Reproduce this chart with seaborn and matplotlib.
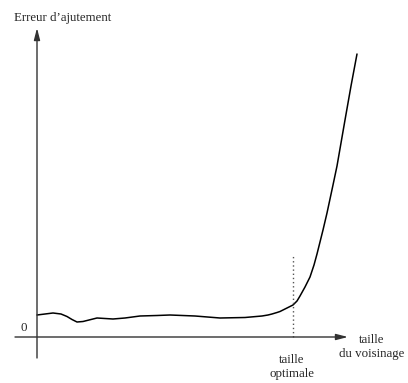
import matplotlib
matplotlib.use("Agg")
import matplotlib.pyplot as plt
import seaborn as sns
import pandas as pd

# neighbourhood size vs fitting error (arbitrary units, origin at axis crossing)
taille = [0, 8, 16, 24, 30, 35, 40, 46, 52, 60, 68, 76, 88, 103, 120, 133, 158,
          183, 208, 225, 231, 235, 240, 243, 247, 250, 253, 256, 260, 263, 268,
          273, 277, 280, 283, 286, 290, 293, 296, 300, 304, 308, 311, 314, 317, 320]
erreur = [22, 23, 24, 23, 20.5, 17.5, 15, 15.5, 17, 19, 18.5, 18, 19, 21, 21.5,
          22, 21, 19, 19.5, 21, 22, 23, 24.5, 25.5, 27.5, 29, 30.5, 32, 36, 41,
          50, 60, 72, 83, 95, 107, 124, 138, 152, 171, 194, 217, 234, 251, 267, 283]
taille_optimale = 256
ylabel = "Erreur d\u2019ajutement"
xlabel = "taille\ndu voisinage"
opt_label = "taille\noptimale"

sns.set_style("white")
plt.rcParams['font.family'] = ['Liberation Serif', 'DejaVu Serif']

fig = plt.figure(figsize=(4.08, 3.83), dpi=100)
ax = fig.add_axes([0, 0, 1, 1])
ax.set_xlim(-37, 371)
ax.set_ylim(-46, 337)
ax.axis("off")

df = pd.DataFrame({"taille": taille, "erreur": erreur})
sns.lineplot(data=df, x="taille", y="erreur", ax=ax, color="black", lw=1.1)

# axes with arrows
arrow = dict(arrowstyle="-|>,head_length=0.7,head_width=0.18", color="#333333",
             lw=1.0, shrinkA=0, shrinkB=0)
ax.annotate("", xy=(0, 309), xytext=(0, -21), arrowprops=arrow)
ax.annotate("", xy=(311, 0), xytext=(-22, 0), arrowprops=arrow)

# optimal size marker
ax.plot([taille_optimale, taille_optimale], [0, 82], ls=(0, (1, 2)), color="#555555", lw=1.0)

fs = 9.3
ax.text(-23, 319, ylabel, fontsize=fs, ha="left", va="center")
ax.text(-13, 9, "0", fontsize=fs, ha="center", va="center")
ax.text(335, -10, xlabel, fontsize=fs, ha="center", va="center", linespacing=1.2)
ax.text(255, -30, opt_label, fontsize=fs, ha="center", va="center", linespacing=1.2)

fig.savefig("out.png", dpi=100)
